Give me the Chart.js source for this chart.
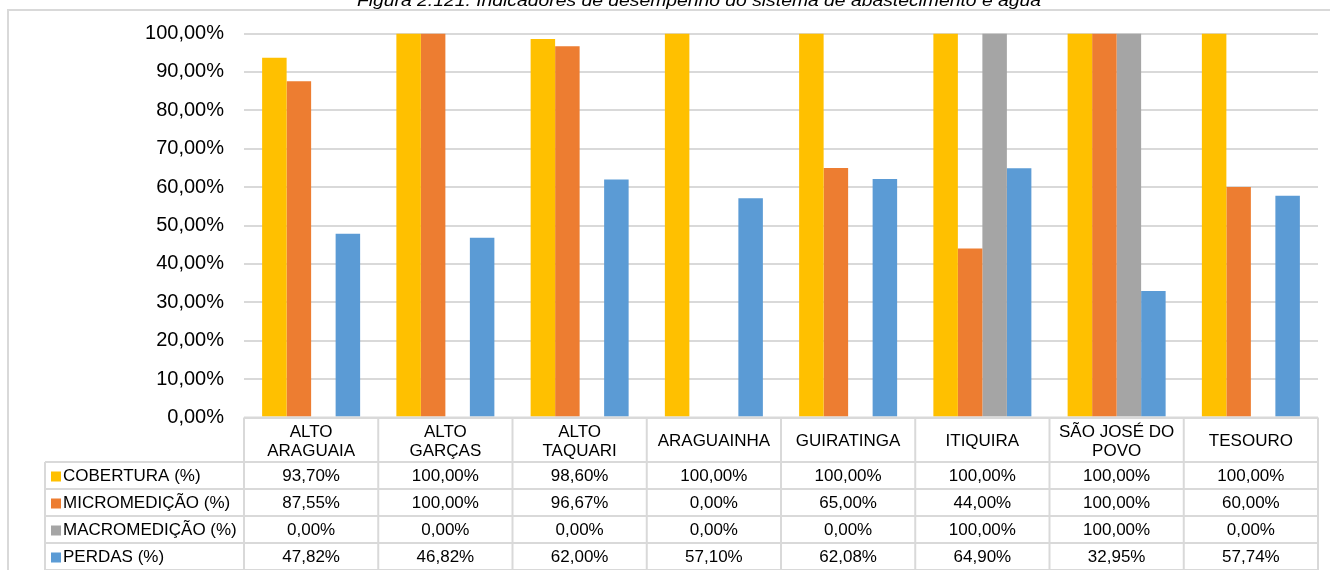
<!DOCTYPE html>
<html>
<head>
<meta charset="utf-8">
<script src="https://cdn.jsdelivr.net/npm/chart.js@4/dist/chart.umd.min.js"></script>
<style>
  html, body { margin: 0; padding: 0; background: #ffffff; }
  #wrap { width: 1330px; height: 570px; position: relative; }
</style>
</head>
<body>
<div id="wrap"><canvas id="chart" width="1330" height="570"></canvas></div>
<script>
// Municípios (two-line headers use arrays)
const categories = [
  ['ALTO', 'ARAGUAIA'],
  ['ALTO', 'GARÇAS'],
  ['ALTO', 'TAQUARI'],
  'ARAGUAINHA',
  'GUIRATINGA',
  'ITIQUIRA',
  ['SÃO JOSÉ DO', 'POVO'],
  'TESOURO'
];

const cobertura      = [93.70, 100.00, 98.60, 100.00, 100.00, 100.00, 100.00, 100.00];
const micromedicao   = [87.55, 100.00, 96.67, 0.00, 65.00, 44.00, 100.00, 60.00];
const macromedicao   = [0.00, 0.00, 0.00, 0.00, 0.00, 100.00, 100.00, 0.00];
const perdas         = [47.82, 46.82, 62.00, 57.10, 62.08, 64.90, 32.95, 57.74];

const seriesNames = ['COBERTURA (%)', 'MICROMEDIÇÃO (%)', 'MACROMEDIÇÃO (%)', 'PERDAS (%)'];
const seriesColors = ['#FFC000', '#ED7D31', '#A5A5A5', '#5B9BD5'];

const yTicks = [0, 10, 20, 30, 40, 50, 60, 70, 80, 90, 100];

const titleText = 'Figura 2.121: Indicadores de desempenho do sistema de abastecimento e água';

const FONT = '"Liberation Sans", Arial, Helvetica, sans-serif';
const GRID = '#d9d9d9';

function pct(v) {
  return v.toFixed(2).replace('.', ',') + '%';
}

// Frame, title and the data table under the plot
const tablePlugin = {
  id: 'dataTable',
  beforeDraw(chart) {
    const ctx = chart.ctx;
    ctx.save();
    // outer frame
    ctx.strokeStyle = GRID;
    ctx.lineWidth = 2;
    ctx.beginPath();
    ctx.moveTo(8, 572);
    ctx.lineTo(8, 10);
    ctx.lineTo(1332, 10);
    ctx.stroke();
    // title
    ctx.fillStyle = '#000';
    ctx.font = 'italic 17px ' + FONT;
    ctx.textBaseline = 'alphabetic';
    ctx.textAlign = 'left';
    const w = ctx.measureText(titleText).width;
    const target = 684;
    ctx.translate(357, 6);
    ctx.scale(target / w, 1);
    ctx.fillText(titleText, 0, 0);
    ctx.restore();
  },
  afterDraw(chart) {
    const ctx = chart.ctx;
    const xs = chart.scales.x;
    const area = chart.chartArea;
    const n = categories.length;
    const colW = (area.right - area.left) / n;
    const labelLeft = 45;
    const headTop = area.bottom;
    const headBottom = 462;
    const rowH = 27;
    const rowsTop = headBottom;
    const data = chart.data.datasets;

    ctx.save();
    ctx.strokeStyle = GRID;
    ctx.lineWidth = 2;

    // horizontal lines
    ctx.beginPath();
    ctx.moveTo(area.left, headTop); ctx.lineTo(area.right, headTop);
    for (let r = 0; r <= data.length; r++) {
      const y = rowsTop + r * rowH;
      ctx.moveTo(labelLeft, y); ctx.lineTo(area.right, y);
    }
    // vertical lines
    ctx.moveTo(labelLeft, rowsTop); ctx.lineTo(labelLeft, rowsTop + data.length * rowH + 2);
    for (let c = 0; c <= n; c++) {
      const x = area.left + c * colW;
      ctx.moveTo(x, headTop); ctx.lineTo(x, rowsTop + data.length * rowH + 2);
    }
    ctx.stroke();

    ctx.fillStyle = '#000';
    ctx.font = '17px ' + FONT;
    ctx.textAlign = 'center';
    ctx.textBaseline = 'middle';

    // column headers
    categories.forEach((cat, i) => {
      const cx = xs.getPixelForValue(i);
      if (Array.isArray(cat)) {
        ctx.fillText(cat[0], cx, 432);
        ctx.fillText(cat[1], cx, 451);
      } else {
        ctx.fillText(cat, cx, 441);
      }
    });

    // rows
    data.forEach((ds, r) => {
      const cy = rowsTop + r * rowH + rowH / 2 + 1;
      // legend key
      ctx.fillStyle = ds.backgroundColor;
      ctx.fillRect(51, cy - 5, 10, 10);
      ctx.fillStyle = '#000';
      ctx.textAlign = 'left';
      ctx.fillText(ds.label, 63, cy);
      ctx.textAlign = 'center';
      ds.data.forEach((v, i) => {
        ctx.fillText(pct(v), xs.getPixelForValue(i), cy);
      });
    });
    ctx.restore();
  }
};

const ctx = document.getElementById('chart').getContext('2d');
new Chart(ctx, {
  type: 'bar',
  data: {
    labels: categories.map(c => Array.isArray(c) ? c.join(' ') : c),
    datasets: [cobertura, micromedicao, macromedicao, perdas].map((d, k) => ({
      label: seriesNames[k],
      data: d,
      backgroundColor: seriesColors[k],
      borderWidth: 0,
      barPercentage: 1.0,
      categoryPercentage: 0.73
    }))
  },
  options: {
    responsive: false,
    animation: false,
    layout: { padding: { top: 33.5, right: 12, bottom: 152.5, left: 0 } },
    plugins: {
      legend: { display: false },
      title: { display: false },
      tooltip: { enabled: false }
    },
    scales: {
      x: {
        ticks: { display: false },
        grid: { display: false, drawTicks: false },
        border: { display: false },
        afterFit(s) { s.height = 0; }
      },
      y: {
        min: 0,
        max: 100,
        afterBuildTicks(s) { s.ticks = yTicks.map(v => ({ value: v })); },
        ticks: {
          padding: 20,
          color: '#000',
          font: { family: FONT, size: 20 },
          callback: v => pct(v)
        },
        grid: { color: GRID, lineWidth: 2, drawTicks: false },
        border: { display: false },
        afterFit(s) { s.width = 244; }
      }
    }
  },
  plugins: [tablePlugin]
});
</script>
</body>
</html>
